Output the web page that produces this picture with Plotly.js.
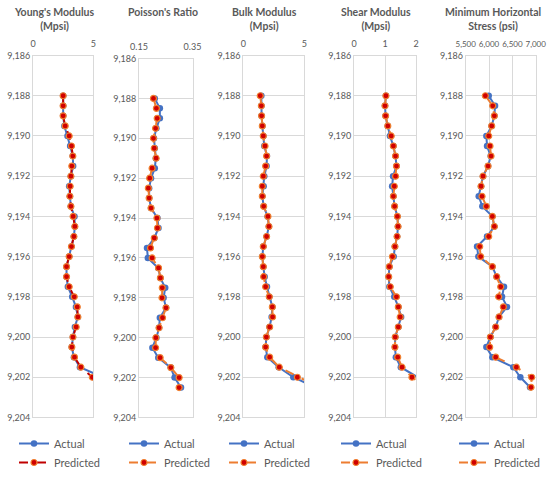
<!DOCTYPE html>
<html>
<head>
<meta charset="utf-8">
<script src="https://cdn.plot.ly/plotly-3.0.1.min.js"></script>
<style>html,body{margin:0;padding:0;background:#fff}#chart{width:550px;height:477px}</style>
</head>
<body>
<div id="chart"></div>
<script>
// ---- data ----
var depth = [9188,9188.5,9189,9189.5,9190,9190.5,9191,9191.5,9192,9192.5,9193,9193.5,9194,9194.5,9195,9195.5,9196,9196.5,9197,9197.5,9198,9198.5,9199,9199.5,9200,9200.5,9201,9201.5,9202,9202.5];
var depthTicks = [9186,9188,9190,9192,9194,9196,9198,9200,9202,9204];

var youngActual    = [2.5,2.5,2.5,2.6,2.86,3.08,3.3,3.33,3.14,3.0,3.06,3.14,3.44,3.47,3.39,3.19,3.0,2.78,2.78,2.89,3.25,3.56,3.72,3.47,3.31,3.22,3.39,3.89,5.8,6.3];
var youngPredicted = [2.5,2.5,2.5,2.67,3.0,3.19,3.3,3.22,3.14,3.08,3.06,3.14,3.33,3.47,3.39,3.19,3.0,2.78,2.78,3.0,3.42,3.67,3.72,3.58,3.31,3.22,3.44,3.97,4.92,5.6];

var poissonActual    = [0.209,0.228,0.228,0.215,0.206,0.209,0.213,0.209,0.195,0.188,0.188,0.195,0.219,0.223,0.207,0.180,0.183,0.222,0.230,0.248,0.242,0.251,0.228,0.225,0.215,0.200,0.222,0.269,0.283,0.307];
var poissonPredicted = [0.204,0.215,0.218,0.212,0.204,0.207,0.214,0.199,0.190,0.185,0.188,0.195,0.217,0.219,0.207,0.193,0.199,0.223,0.230,0.237,0.236,0.251,0.238,0.225,0.213,0.212,0.229,0.269,0.300,0.300];

var bulkActual    = [1.48,1.48,1.50,1.56,1.64,1.72,1.94,1.91,1.72,1.67,1.56,1.67,1.99,2.10,1.91,1.64,1.56,1.64,1.75,1.94,2.13,2.38,2.32,2.16,1.89,1.83,1.97,2.90,4.10,5.9];
var bulkPredicted = [1.39,1.48,1.50,1.56,1.64,1.78,1.91,1.83,1.64,1.56,1.56,1.67,2.02,2.10,1.91,1.64,1.56,1.64,1.67,1.83,2.13,2.38,2.40,2.16,1.89,1.83,2.16,2.95,4.43,6.2];

var shearActual    = [1.03,1.00,1.02,1.09,1.16,1.27,1.34,1.37,1.26,1.23,1.27,1.31,1.40,1.42,1.39,1.32,1.28,1.14,1.12,1.14,1.30,1.43,1.52,1.43,1.33,1.32,1.35,1.51,2.15,2.6];
var shearPredicted = [1.03,1.00,1.02,1.09,1.20,1.27,1.34,1.37,1.34,1.30,1.27,1.31,1.40,1.42,1.39,1.32,1.24,1.14,1.12,1.17,1.37,1.43,1.49,1.43,1.33,1.32,1.41,1.55,1.87,2.3];

var stressActual    = [5993,6129,6114,6057,5943,5957,6036,5979,5871,5829,5779,5857,6071,6114,5957,5743,5771,6071,6164,6321,6279,6386,6214,6143,6029,5943,6071,6521,6671,6879];
var stressPredicted = [5921,6079,6114,6057,5993,6021,6043,5979,5871,5829,5850,5943,6071,6114,5993,5800,5821,6071,6164,6250,6207,6307,6214,6143,6029,6014,6143,6586,6914,6900];

var panelTitles = ["Young's Modulus<br>(Mpsi)", "Poisson's Ratio", "Bulk Modulus<br>(Mpsi)", "Shear Modulus<br>(Mpsi)", "Minimum Horizontal<br>Stress (psi)"];
var xTicks = [[0,5],[0.15,0.35],[0,5],[0,1,2],[5500,6000,6500,7000]];
var xTickText = [["0","5"],["0.15","0.35"],["0","5"],["0","1","2"],["5,500","6,000","6,500","7,000"]];
var actualSeries = [youngActual, poissonActual, bulkActual, shearActual, stressActual];
var predictedSeries = [youngPredicted, poissonPredicted, bulkPredicted, shearPredicted, stressPredicted];
var legendLabels = ["Actual", "Predicted"];

// ---- layout geometry (pixels) ----
var W = 550, H = 477;
var boxX = [[33,93.3],[139,192.5],[243.3,304.3],[354,416],[465.7,535.7]];
var boxY = [[56,421],[59,421],[56,421],[56,421],[56,421]];
var titleX = [54,163,264,376,493];
var legendX = [14,124,224,336,454];
var predLineColor = ['#C00000','#ED7D31','#ED7D31','#ED7D31','#ED7D31'];

var grey = '#595959', grid = '#D9D9D9';
var fontFam = 'Lato, "Open Sans", sans-serif';

var data = [], layout = {
  width: W, height: H, margin: {l:0,r:0,t:0,b:0},
  paper_bgcolor: '#fff', plot_bgcolor: '#fff',
  font: {family: fontFam, color: grey, size: 9},
  annotations: [], showlegend: true
};

for (var i = 0; i < 5; i++) {
  var n = i === 0 ? '' : String(i+1);
  var xa = 'x' + n, ya = 'y' + n;
  var lg = 'legend' + n;
  data.push({
    x: actualSeries[i], y: depth, xaxis: xa, yaxis: ya, type: 'scatter', mode: 'lines+markers',
    name: legendLabels[0], legend: lg,
    line: {color: '#4472C4', width: 2},
    marker: {color: '#4472C4', size: 6.5, line: {color: '#4472C4', width: 0}}
  });
  data.push({
    x: predictedSeries[i], y: depth, xaxis: xa, yaxis: ya, type: 'scatter', mode: 'lines+markers',
    name: legendLabels[1], legend: lg,
    line: {color: predLineColor[i], width: 2, dash: 'dash'},
    marker: {color: '#D00000', size: 6, line: {color: '#F08030', width: 1.2}}
  });
  layout['xaxis' + n] = {
    domain: [boxX[i][0]/W, boxX[i][1]/W], anchor: ya, side: 'top',
    range: [xTicks[i][0], xTicks[i][xTicks[i].length-1]],
    tickmode: 'array', tickvals: xTicks[i], ticktext: xTickText[i], tickangle: 0,
    ticklabelstandoff: 4,
    showgrid: true, gridcolor: grid, gridwidth: 1, zeroline: false,
    showline: true, linecolor: grid, linewidth: 1, mirror: true,
    ticks: '', tickfont: {size: i === 4 ? 8 : 9, color: grey}, fixedrange: true
  };
  layout['yaxis' + n] = {
    domain: [1 - boxY[i][1]/H, 1 - boxY[i][0]/H], anchor: xa,
    range: [9204, 9186], tickmode: 'array', tickvals: depthTicks,
    tickformat: ',d', showgrid: true, gridcolor: grid, gridwidth: 1, zeroline: false,
    showline: true, linecolor: grid, linewidth: 1, mirror: true,
    ticks: '', tickfont: {size: 9, color: grey}, fixedrange: true
  };
  layout[lg] = {
    x: legendX[i]/W, y: 1 - 433/H, xanchor: 'left', yanchor: 'top',
    orientation: 'v', bgcolor: 'rgba(0,0,0,0)', tracegroupgap: 0,
    font: {size: 11, color: grey, family: fontFam}, itemwidth: 30
  };
  layout.annotations.push({
    text: '<b>' + panelTitles[i] + '</b>', xref: 'paper', yref: 'paper',
    x: titleX[i]/W, y: 1 - 4/H, xanchor: 'center', yanchor: 'top', showarrow: false,
    font: {size: 10.5, color: grey, family: fontFam}, align: 'center'
  });
}

Plotly.newPlot('chart', data, layout, {staticPlot: true, displayModeBar: false});
</script>
</body>
</html>
